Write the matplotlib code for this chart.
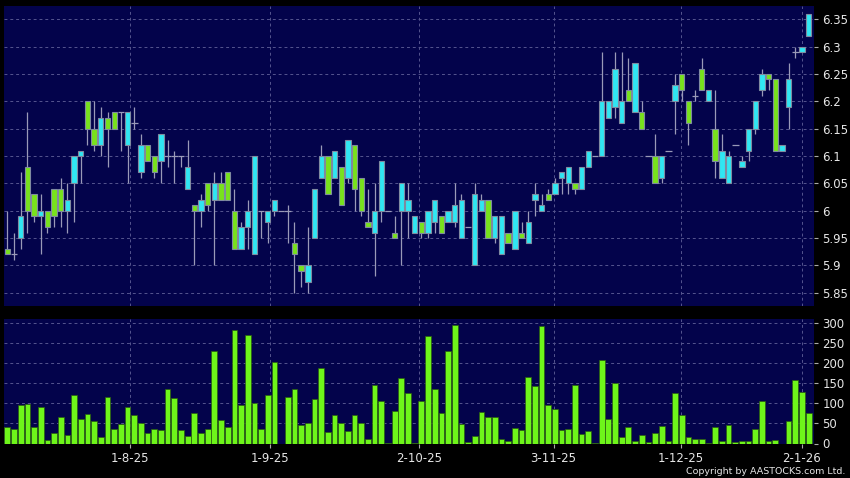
import matplotlib
matplotlib.use('Agg')
import matplotlib.pyplot as plt
import numpy as np

# ---- data ----
# candle: (open, close, high, low); cyan = up, green = down, open==close -> doji
opens = [5.93, 5.92, 5.95, 6.08, 6.03, 5.99, 6.00, 6.04, 6.04, 6.00,
         6.05, 6.10, 6.20, 6.15, 6.12, 6.17, 6.18, 6.18, 6.12, 6.16,
         6.07, 6.12, 6.10, 6.09, 6.10, 6.10, 6.10, 6.04, 6.01, 6.00,
         6.05, 6.02, 6.05, 6.07, 6.00, 5.93, 5.97, 5.92, 6.00, 5.98,
         6.00, 6.00, 6.00, 5.94, 5.90, 5.87, 5.95, 6.06, 6.10, 6.06,
         6.08, 6.06, 6.12, 6.06, 5.98, 5.96, 6.00, 6.00, 5.96, 6.00,
         6.00, 5.96, 5.98, 5.96, 5.98, 5.99, 5.98, 5.98, 5.95, 5.97,
         5.90, 6.00, 6.02, 5.95, 5.92, 5.96, 5.93, 5.96, 5.94, 6.02,
         6.00, 6.03, 6.03, 6.06, 6.05, 6.05, 6.04, 6.08, 6.10, 6.10,
         6.17, 6.19, 6.16, 6.22, 6.18, 6.18, 6.10, 6.10, 6.06, 6.11,
         6.20, 6.25, 6.20, 6.21, 6.26, 6.20, 6.15, 6.06, 6.05, 6.12,
         6.08, 6.11, 6.15, 6.22, 6.25, 6.24, 6.11, 6.19, 6.29, 6.29,
         6.32]
closes = [5.92, 5.92, 5.99, 6.00, 5.99, 6.00, 5.97, 5.99, 6.00, 6.02,
          6.10, 6.11, 6.15, 6.12, 6.17, 6.15, 6.15, 6.18, 6.18, 6.16,
          6.12, 6.09, 6.07, 6.14, 6.10, 6.10, 6.10, 6.08, 6.00, 6.02,
          6.01, 6.05, 6.02, 6.02, 5.93, 5.97, 6.00, 6.10, 6.00, 6.00,
          6.02, 6.00, 6.00, 5.92, 5.89, 5.90, 6.04, 6.10, 6.03, 6.11,
          6.01, 6.13, 6.04, 6.00, 5.97, 6.00, 6.09, 6.00, 5.95, 6.05,
          6.02, 5.99, 5.96, 6.00, 6.02, 5.96, 6.00, 6.01, 6.02, 5.97,
          6.03, 6.02, 5.95, 5.99, 5.99, 5.94, 6.00, 5.95, 5.98, 6.03,
          6.01, 6.02, 6.05, 6.07, 6.08, 6.04, 6.08, 6.11, 6.10, 6.20,
          6.20, 6.26, 6.20, 6.20, 6.27, 6.15, 6.10, 6.05, 6.10, 6.11,
          6.23, 6.22, 6.16, 6.21, 6.22, 6.22, 6.09, 6.11, 6.10, 6.12,
          6.09, 6.15, 6.20, 6.25, 6.24, 6.11, 6.12, 6.24, 6.29, 6.30,
          6.36]
highs = [6.00, 5.96, 6.07, 6.18, 6.03, 6.03, 6.00, 6.04, 6.06, 6.05,
         6.10, 6.11, 6.20, 6.20, 6.19, 6.18, 6.18, 6.18, 6.18, 6.19,
         6.14, 6.12, 6.10, 6.14, 6.13, 6.11, 6.10, 6.13, 6.01, 6.03,
         6.05, 6.07, 6.07, 6.07, 6.04, 5.98, 6.02, 6.10, 6.00, 6.00,
         6.02, 6.00, 6.01, 5.98, 5.90, 5.97, 6.04, 6.12, 6.10, 6.11,
         6.08, 6.13, 6.12, 6.06, 6.04, 6.05, 6.09, 6.00, 5.99, 6.05,
         6.05, 5.99, 5.98, 6.00, 6.02, 5.99, 6.00, 6.05, 6.03, 5.97,
         6.05, 6.03, 6.02, 5.99, 5.99, 5.96, 6.00, 5.98, 6.00, 6.05,
         6.03, 6.04, 6.06, 6.07, 6.08, 6.05, 6.08, 6.11, 6.10, 6.29,
         6.20, 6.29, 6.29, 6.28, 6.27, 6.20, 6.10, 6.14, 6.10, 6.11,
         6.25, 6.25, 6.20, 6.22, 6.28, 6.22, 6.22, 6.14, 6.11, 6.12,
         6.10, 6.15, 6.20, 6.26, 6.25, 6.24, 6.12, 6.27, 6.30, 6.30,
         6.36]
lows = [5.92, 5.91, 5.93, 5.96, 5.98, 5.92, 5.96, 5.97, 5.97, 5.96,
        5.98, 6.05, 6.12, 6.11, 6.10, 6.08, 6.15, 6.11, 6.05, 6.15,
        6.06, 6.09, 6.06, 6.05, 6.08, 6.05, 6.08, 6.04, 5.90, 5.97,
        6.00, 5.90, 6.02, 6.02, 5.93, 5.93, 5.93, 5.92, 5.95, 5.94,
        5.99, 6.00, 5.94, 5.85, 5.86, 5.85, 5.95, 6.06, 6.03, 6.06,
        6.01, 6.05, 6.00, 5.99, 5.97, 5.88, 5.98, 6.00, 5.95, 5.90,
        5.95, 5.96, 5.95, 5.95, 5.96, 5.96, 5.98, 5.97, 5.95, 5.97,
        5.90, 6.00, 5.95, 5.94, 5.92, 5.94, 5.93, 5.95, 5.94, 5.99,
        6.00, 6.02, 6.03, 6.03, 6.03, 6.03, 6.04, 6.08, 6.10, 6.10,
        6.17, 6.17, 6.16, 6.20, 6.18, 6.15, 6.10, 6.05, 6.05, 6.11,
        6.14, 6.20, 6.12, 6.20, 6.22, 6.20, 6.06, 6.06, 6.05, 6.12,
        6.08, 6.09, 6.14, 6.21, 6.22, 6.11, 6.11, 6.15, 6.28, 6.29,
        6.32]
volumes = [42, 35, 97, 99, 42, 92, 8, 27, 67, 22,
           122, 61, 73, 57, 16, 117, 36, 48, 91, 72,
           51, 27, 35, 33, 135, 113, 33, 18, 76, 25,
           36, 230, 58, 40, 283, 95, 271, 100, 36, 122,
           202, 0, 116, 137, 46, 51, 110, 187, 29, 70,
           51, 32, 72, 50, 11, 145, 107, 2, 81, 162,
           126, 2, 107, 267, 137, 76, 230, 295, 49, 3,
           18, 79, 65, 67, 11, 5, 38, 33, 165, 143,
           293, 95, 85, 33, 36, 145, 23, 30, 1, 209,
           62, 151, 16, 41, 7, 20, 3, 25, 43, 6,
           127, 72, 17, 10, 11, 2, 41, 7, 47, 3,
           7, 7, 37, 107, 7, 8, 0, 57, 157, 128,
           77]
date_labels = ['1-8-25', '1-9-25', '2-10-25', '3-11-25', '1-12-25', '2-1-26']
date_pos = [18.4, 39.4, 61.7, 81.8, 100.9, 119.0]
price_ticks = [5.85, 5.9, 5.95, 6.0, 6.05, 6.1, 6.15, 6.2, 6.25, 6.3, 6.35]
price_tick_labels = ['5.85', '5.9', '5.95', '6', '6.05', '6.1', '6.15', '6.2', '6.25', '6.3', '6.35']
vol_ticks = [0, 50, 100, 150, 200, 250, 300]

# ---- style ----
BG = '#000000'
NAVY = '#03034b'
GRID = '#55558f'
CYAN = '#30e6f2'
GREEN = '#78e21c'
VGREEN = '#6ef51a'
WICK = '#9a9ab8'
EDGE = '#7f8aa0'
TXT = '#e6e6e6'

W, H = 850, 478
fig = plt.figure(figsize=(W / 100, H / 100), dpi=100, facecolor=BG)
ax1 = fig.add_axes([4 / W, 1 - 306 / H, 810 / W, 300 / H])
ax2 = fig.add_axes([4 / W, 1 - 443.5 / H, 810 / W, 125 / H])

x = np.arange(len(opens))
o = np.array(opens); c = np.array(closes)
hi = np.array(highs); lo = np.array(lows)

for ax in (ax1, ax2):
    ax.set_facecolor(NAVY)
    for s in ax.spines.values():
        s.set_visible(False)
    ax.set_xlim(-0.5, 120.8)
    ax.set_axisbelow(True)

# wicks
ax1.vlines(x, lo, hi, color=WICK, linewidth=0.9, zorder=2)
up = c > o
dn = c < o
dj = c == o
bw = 0.8
ax1.bar(x[up], (c - o)[up], bottom=o[up], width=bw, color=CYAN,
        edgecolor=EDGE, linewidth=0.8, zorder=3)
ax1.bar(x[dn], (o - c)[dn], bottom=c[dn], width=bw, color=GREEN,
        edgecolor=EDGE, linewidth=0.8, zorder=3)
ax1.hlines(o[dj], x[dj] - 0.5, x[dj] + 0.5, color=WICK, linewidth=0.9, zorder=3)

ax1.set_ylim(5.8257, 6.3743)
ax1.set_yticks(price_ticks)
ax1.set_yticklabels(price_tick_labels)
ax1.set_xticks(date_pos)
ax1.tick_params(axis='x', length=0, labelbottom=False)

# volume
ax2.bar(x, volumes, width=0.86, color=VGREEN, edgecolor='#2a5a10',
        linewidth=0.5, zorder=3)
ax2.set_ylim(0, 311.5)
ax2.set_yticks(vol_ticks)
ax2.set_xticks(date_pos)
ax2.set_xticklabels(date_labels)
ax2.tick_params(axis='x', length=3, color='#aaaaaa', colors=TXT,
                labelsize=8.5, pad=3)

for ax in (ax1, ax2):
    ax.yaxis.tick_right()
    ax.tick_params(axis='y', length=3, color='#aaaaaa', labelcolor=TXT,
                   labelsize=8.5, pad=3, left=False)
    ax.grid(True, color=GRID, linestyle=(0, (3, 3)), linewidth=0.7)

fig.text(0.995, 1 - 471 / H, 'Copyright by AASTOCKS.com Ltd.', color=TXT,
         fontsize=6.8, ha='right', va='center')

fig.savefig('out.png', dpi=100, facecolor=BG)
